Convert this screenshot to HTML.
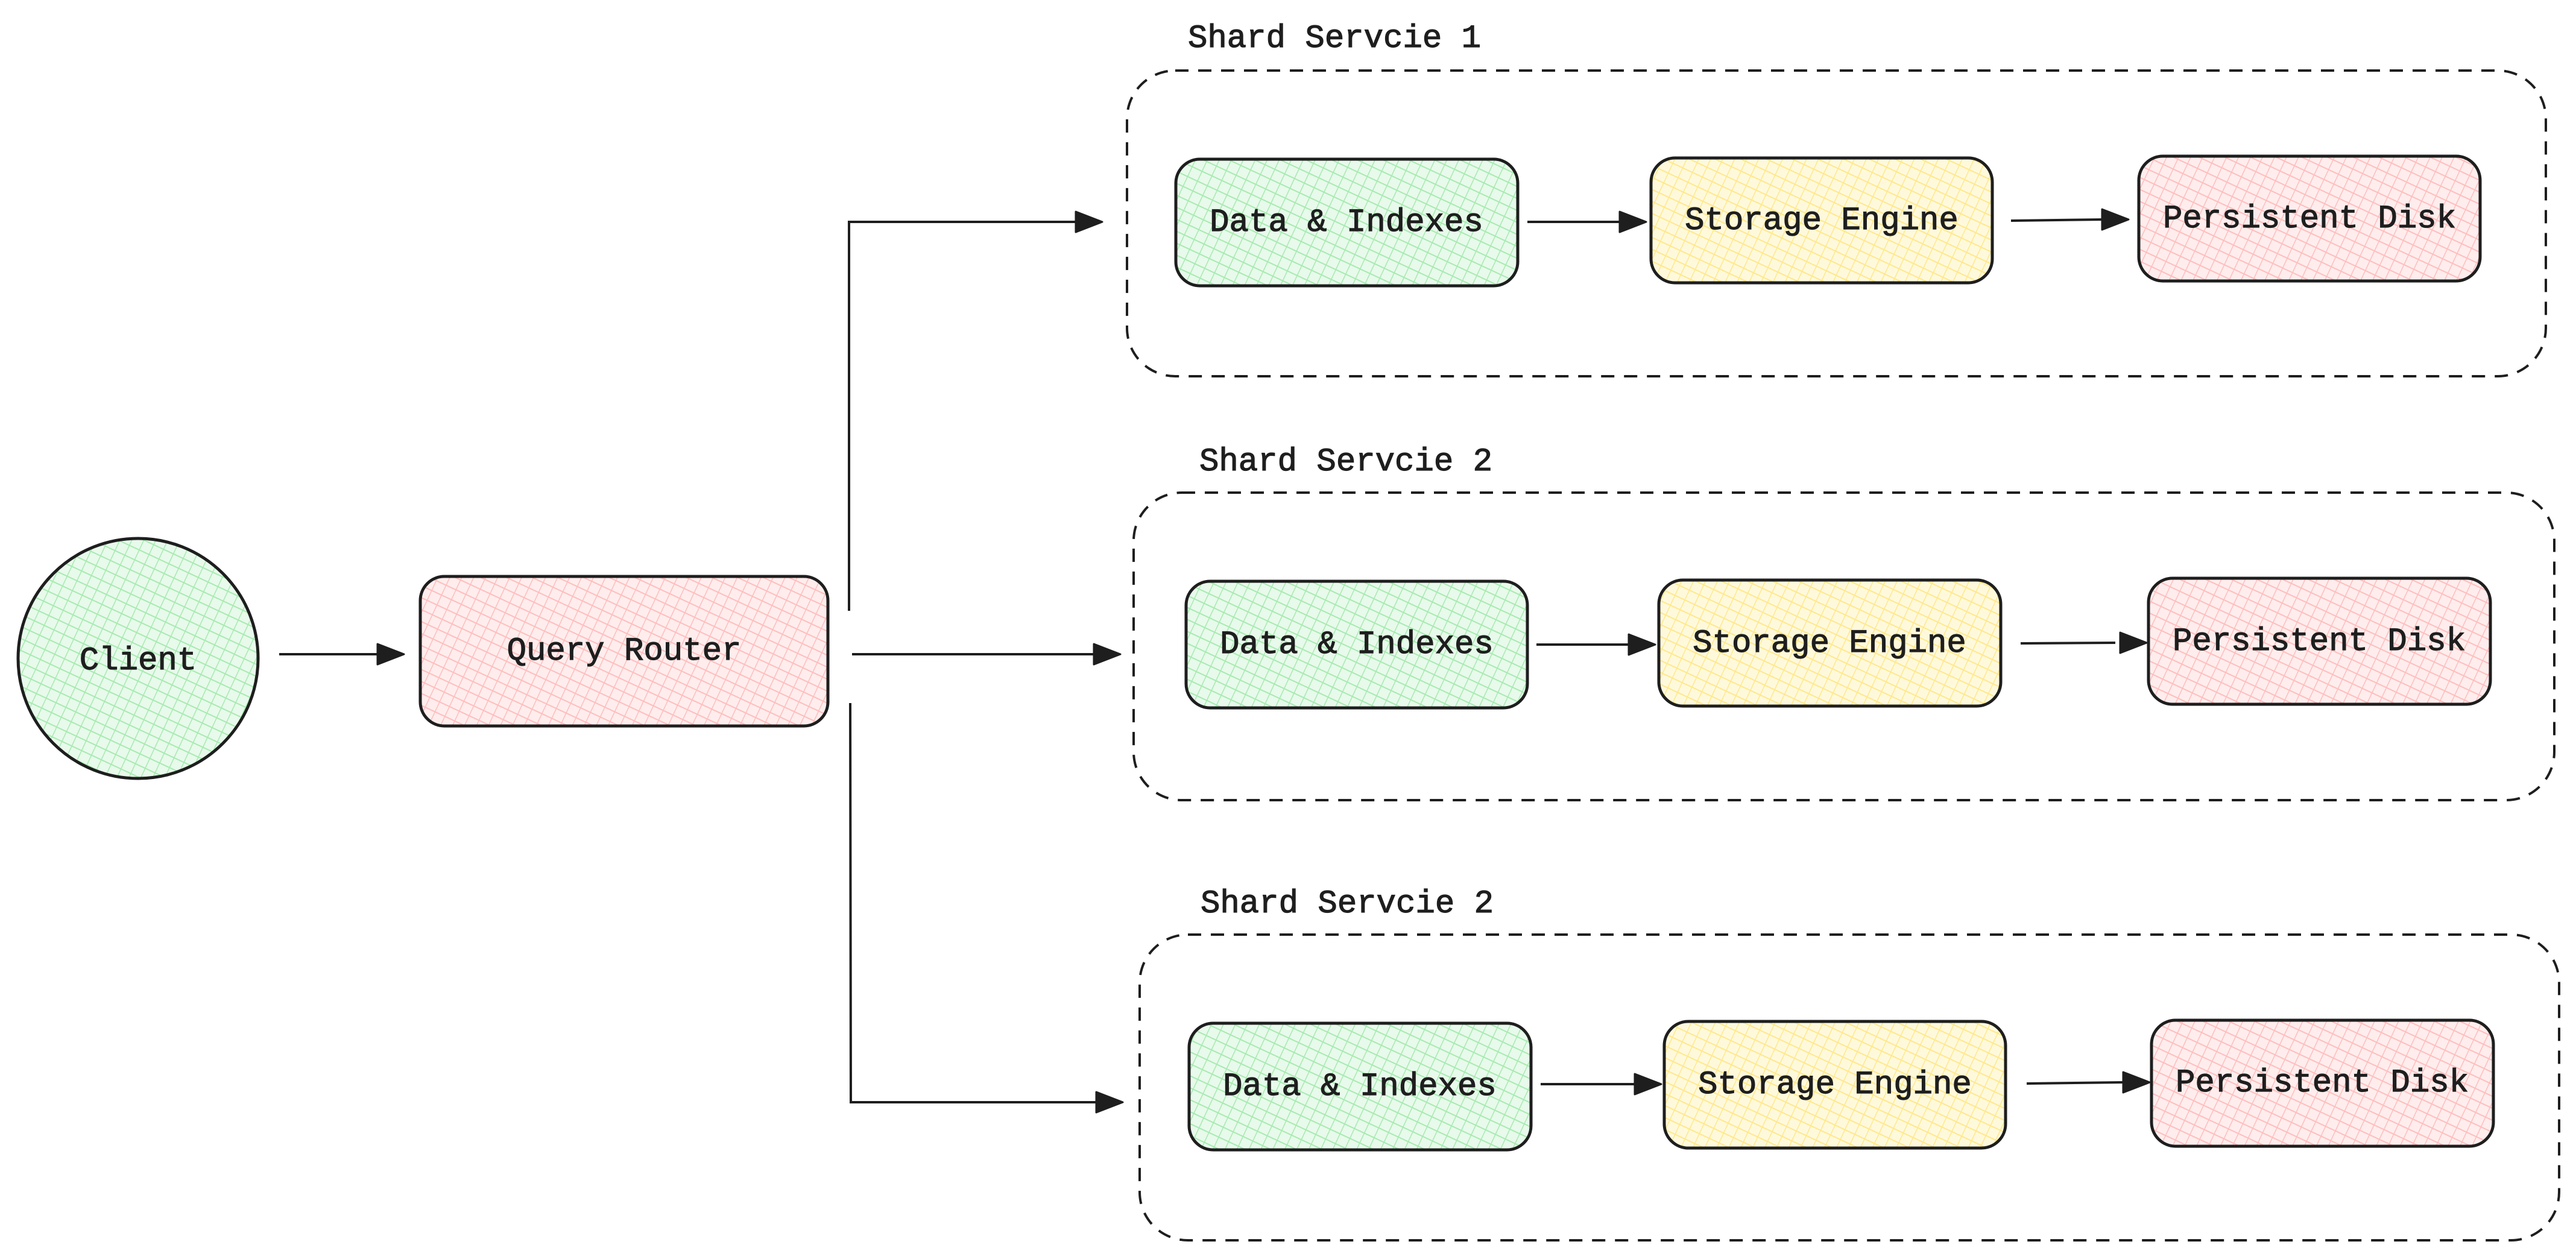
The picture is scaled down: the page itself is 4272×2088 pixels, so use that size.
<!DOCTYPE html>
<html><head><meta charset="utf-8"><style>
html,body{margin:0;padding:0;background:#fff;}
svg{display:block;}
text{font-family:"Liberation Mono",monospace;font-size:54px;fill:#1e1e1e;stroke:#1e1e1e;stroke-width:1.2px;}
</style></head><body>
<svg width="4272" height="2088" viewBox="0 0 4272 2088" xmlns="http://www.w3.org/2000/svg">
<defs>
<pattern id="pg" width="18" height="18" patternUnits="userSpaceOnUse" patternTransform="rotate(25)">
<rect width="18" height="18" fill="#e8faeb"/><line x1="0" y1="0" x2="0" y2="18" stroke="#a6eab0" stroke-width="3"/><line x1="0" y1="9" x2="18" y2="9" stroke="#a6eab0" stroke-width="2"/></pattern>
<pattern id="py" width="18" height="18" patternUnits="userSpaceOnUse" patternTransform="rotate(25)">
<rect width="18" height="18" fill="#fff9dc"/><line x1="0" y1="0" x2="0" y2="18" stroke="#ffe88a" stroke-width="3"/><line x1="0" y1="9" x2="18" y2="9" stroke="#ffe88a" stroke-width="2"/></pattern>
<pattern id="pr" width="18" height="18" patternUnits="userSpaceOnUse" patternTransform="rotate(25)">
<rect width="18" height="18" fill="#ffeded"/><line x1="0" y1="0" x2="0" y2="18" stroke="#ffbdbd" stroke-width="3"/><line x1="0" y1="9" x2="18" y2="9" stroke="#ffbdbd" stroke-width="2"/></pattern>
</defs>
<g stroke="#1e1e1e" stroke-width="4" fill="none">
<rect x="1869" y="117" width="2353" height="507" rx="80" stroke-dasharray="22 16"/>
<rect x="1880" y="817" width="2356" height="510" rx="80" stroke-dasharray="22 16"/>
<rect x="1890" y="1550" width="2354" height="507" rx="80" stroke-dasharray="22 16"/>
</g>
<text x="1970" y="78">Shard Servcie 1</text>
<text x="1989" y="780">Shard Servcie 2</text>
<text x="1991" y="1513">Shard Servcie 2</text>

<circle cx="229" cy="1092" r="199" fill="url(#pg)" stroke="#1e1e1e" stroke-width="5"/>
<text x="229" y="1110" text-anchor="middle">Client</text>
<rect x="697" y="956" width="676" height="248" rx="40" fill="url(#pr)" stroke="#1e1e1e" stroke-width="5"/>
<text x="1035" y="1094" text-anchor="middle">Query Router</text>

<g stroke-width="5" stroke="#1e1e1e">
<rect x="1950" y="264" width="567" height="210" rx="40" fill="url(#pg)"/>
<rect x="2738" y="262" width="566" height="207" rx="40" fill="url(#py)"/>
<rect x="3547" y="259" width="566" height="207" rx="40" fill="url(#pr)"/>
<rect x="1967" y="964" width="566" height="210" rx="40" fill="url(#pg)"/>
<rect x="2751" y="962" width="567" height="209" rx="40" fill="url(#py)"/>
<rect x="3563" y="959" width="567" height="209" rx="40" fill="url(#pr)"/>
<rect x="1972" y="1697" width="567" height="210" rx="40" fill="url(#pg)"/>
<rect x="2760" y="1694" width="566" height="210" rx="40" fill="url(#py)"/>
<rect x="3568" y="1692" width="567" height="209" rx="40" fill="url(#pr)"/>
</g>
<g text-anchor="middle">
<text x="2233" y="383">Data &amp; Indexes</text>
<text x="3021" y="380">Storage Engine</text>
<text x="3830" y="377">Persistent Disk</text>
<text x="2250" y="1083">Data &amp; Indexes</text>
<text x="3034" y="1081">Storage Engine</text>
<text x="3846" y="1078">Persistent Disk</text>
<text x="2255" y="1816">Data &amp; Indexes</text>
<text x="3043" y="1813">Storage Engine</text>
<text x="3851" y="1810">Persistent Disk</text>
</g>

<g stroke="#1e1e1e" stroke-width="4" fill="none">
<path d="M463 1085 L640 1085"/>
<path d="M1408 1013 L1408 368 L1800 368"/>
<path d="M1413 1085 L1825 1085"/>
<path d="M1410 1166 L1411 1828 L1828 1828"/>
<path d="M2533 368 L2690 368"/>
<path d="M3335 366 L3490 364"/>
<path d="M2548 1069 L2703 1069"/>
<path d="M3351 1067 L3508 1066"/>
<path d="M2555 1798 L2712 1798"/>
<path d="M3361 1797 L3520 1795"/>
</g>
<g fill="#1e1e1e" stroke="#1e1e1e" stroke-width="3" stroke-linejoin="round">
<polygon points="670,1085 626,1068 626,1102"/>
<polygon points="1828,368 1784,351 1784,385"/>
<polygon points="1858,1085 1814,1068 1814,1102"/>
<polygon points="1862,1828 1818,1811 1818,1845"/>
<polygon points="2730,368 2686,351 2686,385"/>
<polygon points="3530,364 3486,347 3486,381"/>
<polygon points="2745,1069 2701,1052 2701,1086"/>
<polygon points="3560,1066 3516,1049 3516,1083"/>
<polygon points="2755,1798 2711,1781 2711,1815"/>
<polygon points="3565,1795 3521,1778 3521,1812"/>
</g>
</svg>
</body></html>
